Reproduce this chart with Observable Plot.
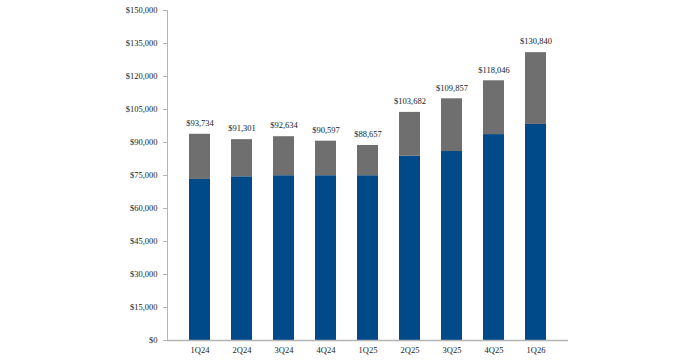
<!DOCTYPE html>
<html><head><meta charset="utf-8">
<script src="https://cdn.jsdelivr.net/npm/d3@7"></script>
<script src="https://cdn.jsdelivr.net/npm/@observablehq/plot@0.6"></script>
<style>
body{margin:0;background:#fff;}
#chart svg, #chart svg text{font-family:"Liberation Serif","Times New Roman",serif;}
</style></head>
<body><div id="chart"></div>
<script>
const quarters = ["1Q24","2Q24","3Q24","4Q24","1Q25","2Q25","3Q25","4Q25","1Q26"];
const totals = [93734,91301,92634,90597,88657,103682,109857,118046,130840];
const baseValues = [73200,74400,74900,74900,74900,83800,85900,93600,98200];
const yTicks = [0,15000,30000,45000,60000,75000,90000,105000,120000,135000,150000];

const rows = [];
quarters.forEach((q,i)=>{
  rows.push({q, part:"base", v: baseValues[i]});
  rows.push({q, part:"top", v: totals[i]-baseValues[i]});
});
const labels = quarters.map((q,i)=>({q, total: totals[i]}));
const money = d => "$" + d3.format(",")(d);

const chart = Plot.plot({
  width: 696, height: 364,
  marginLeft: 167, marginRight: 128, marginTop: 10, marginBottom: 24,
  style:{fontFamily:"'Liberation Serif','Times New Roman',serif", fontSize:"8.5px", color:"#222", background:"#fff"},
  x:{domain: quarters, padding:0.5, label:null, tickSize:0, tickPadding:6},
  y:{domain:[0,150000], ticks:yTicks, tickFormat: money, label:null, tickSize:4, tickPadding:6},
  color:{domain:["base","top"], range:["#004a8a","#6f6f6f"]},
  marks:[
    Plot.barY(rows, {x:"q", y:"v", fill:"part", order:["base","top"]}),
    Plot.frame({anchor:"left", stroke:"#b5b5b5"}),
    Plot.axisY({ticks:yTicks, tickFormat: money, tickSize:4, tickPadding:6, stroke:"#b5b5b5", color:"#222", fontSize:8.5}),
    Plot.axisX({tickSize:0, tickPadding:6, color:"#222", fontSize:8.5, label:null}),
    Plot.ruleY([0], {stroke:"#b5b5b5", strokeWidth:1.5}),
    Plot.text(labels, {x:"q", y:"total", text: d=>money(d.total), dy:-11, fill:"#222", fontSize:8.5})
  ]
});
document.getElementById("chart").appendChild(chart);
</script></body></html>
